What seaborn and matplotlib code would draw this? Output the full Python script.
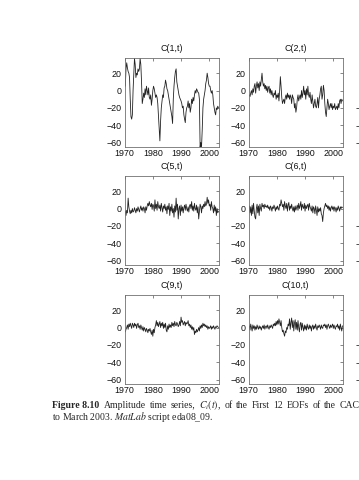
import numpy as np
import pandas as pd
import matplotlib
matplotlib.use("Agg")
import matplotlib.pyplot as plt
import seaborn as sns

# ---- data (quarterly readings, Jan 1970 .. Mar 2003) ----
start_year = 1970.25
step = 0.25

c1 = [5, 25, 32, 26, 22, 20, 15, -10, -30, -33, -28, 0, 20, 37, 30, 15,
      20, 18, 25, 22, 25, 37, 30, 10, -15, -10, -3, -8, 2, -5, 5, 0,
      -5, 3, -8, -10, -5, -17, -10, 0, 5, 2, -3, -8, -5, -8, -15, -30,
      -45, -58, -35, -20, -12, -5, -8, 3, 5, 12, 8, 2, 0, -5, -10, -15,
      -20, -25, -30, -38, -10, 5, 15, 22, 25, 10, 5, 0, -5, -8, -10, -12,
      -15, -20, -18, -28, -33, -37, -25, -20, -18, -12, -20, -15, -25, -20, -10, -15,
      -8, -12, -5, 0, -3, 2, 0, -2, -3, -10, -65, -60, -65, -45, -20, -10,
      -5, 0, 8, 12, 20, 15, 8, 5, 5, 0, -3, 0, -5, -15, -20, -25,
      -28, -20, -22, -18, -20]
c2 = [-5, -7, -3, 0, -5, 2, -2, 5, 8, -3, 5, 10, 3, 8, 0, 10,
      5, 12, 20, 10, 5, 8, 2, 6, 0, 5, -2, 3, 5, -3, 2, -5,
      0, -5, -8, -3, -5, 0, -10, -5, -8, -3, -12, 0, 16, 5, -8, -15,
      -12, -10, -15, -8, -5, -10, -3, -8, -5, -10, -5, -8, -15, -5, -8, -10,
      -20, -15, -25, -20, -10, -5, -12, -8, -5, -10, 0, -8, -3, 5, -5, 0,
      -10, 2, -5, 5, -5, -8, -2, -10, -15, -5, -12, -20, -15, -10, -18, -20,
      -15, -8, -20, -10, -5, 2, 5, -10, -5, 6, 0, -15, -25, -30, -20, -10,
      -15, -22, -18, -15, -20, -15, -22, -18, -20, -15, -22, -20, -18, -22, -15, -20,
      -12, -10, -15, -10, -12]
c5 = [-3, -8, -2, -5, 12, 2, -3, -6, -2, -5, 0, -4, -3, 1, -2, -5,
      0, -3, 2, -1, -4, 0, 3, -2, 1, -3, 2, 0, -5, 2, -2, 3,
      6, 3, 8, 4, 2, 6, -1, 5, 3, -3, 10, 0, 5, -2, 8, 2,
      0, 4, -3, 6, 1, -4, 3, 0, 5, -2, 2, -6, 3, -1, 6, -8,
      2, -3, 5, -5, 0, -10, 3, -4, 12, -2, 5, -12, 0, 3, -8, 4,
      -3, 2, -5, 1, 4, -2, 5, 0, -3, 2, -4, 3, 5, 0, 8, -2,
      3, -3, 6, 0, -2, 4, -5, 2, -12, -3, 5, 2, -5, 3, 0, 5,
      2, 8, 3, 5, 13, 6, 10, 3, 5, -2, 8, 2, 0, -5, 4, -3,
      2, -8, 0, -5, -3]
c6 = [3, -5, 2, -8, 4, -6, 6, -3, -10, -12, 0, 5, -5, 3, -8, 5,
      0, -3, 6, 2, 4, 0, 5, 2, 3, 1, 4, 0, 2, -2, 3, 1,
      -3, 2, 0, 4, 1, -3, 2, -1, 3, 0, -2, 5, 3, 10, 6, 2,
      5, -2, 8, 3, 0, 6, -3, 4, 7, -2, 3, 0, 5, 0, -3, 2,
      -4, 3, -2, 1, 4, -2, 6, 0, 3, 8, -2, 5, 2, 0, 6, -3,
      4, 0, 3, 5, -2, 6, 2, 0, -3, 3, -5, 2, 0, -6, 3, -2,
      -8, 2, -4, 0, -3, 1, -6, -8, -15, -5, 0, 3, 6, 2, 4, 0,
      3, -2, 2, -3, 1, 3, -1, 2, -3, 2, 0, -4, 1, -2, 3, 0,
      -3, 2, 0, 2, 1]
c9 = [-5, -2, 0, 3, -2, 4, 1, 5, 2, -1, 5, 3, 0, 5, 2, 4,
      -1, 3, 5, 0, 2, -2, 3, 0, -3, 1, -4, 0, -2, -5, -1, -3,
      -6, -2, -4, -1, -5, -8, -3, -10, -2, -6, 0, 3, 8, 2, 6, 1,
      4, 7, 0, 5, 2, 6, -1, 4, 0, 5, -3, -5, 2, -2, 4, 0,
      3, 0, 6, 2, 5, 1, 7, 3, 2, 6, 4, 1, 3, 7, 2, 12,
      6, 8, 3, 5, 7, 2, 6, 4, 5, 8, 2, 4, 0, 3, -2, 1,
      -3, 0, -8, -4, -6, -2, -5, -3, 0, -4, 2, -1, 3, 0, 5, 2,
      4, 1, 3, 0, 2, -2, 1, -1, 0, 2, -2, 1, -1, 2, 0, -2,
      1, 0, 2, 1, 0]
c10 = [2, -3, 4, 0, -4, 3, -1, 2, -3, 1, -2, 3, 0, -2, 2, -1,
       1, -3, 0, 2, -1, 3, -2, 1, 2, -1, 3, 0, -2, 2, 0, 3,
       1, -1, 4, 2, 5, 2, 7, 3, 8, 4, 10, 6, 2, 8, 0, -5,
       -3, -7, -10, -4, -6, 0, -2, 4, 2, 10, -2, 6, 11, 0, 8, -4,
       5, 9, -2, 6, -3, 8, 0, -5, 4, 6, -3, 5, 0, -4, 3, -2,
       2, -3, 4, 0, -2, 3, -1, 2, -4, 1, 3, -2, 2, -1, 4, 0,
       -3, 2, 0, 3, 1, -2, 3, 0, -1, 3, 2, 4, 0, 3, -2, 2,
       4, 1, -1, 3, 0, 2, 4, -1, 3, 0, -2, 2, 1, 4, -1, 2,
       -3, 4, 0, -4, 2]

titles = ["C(1,t)", "C(2,t)", "C(5,t)", "C(6,t)", "C(9,t)", "C(10,t)"]
series = [c1, c2, c5, c6, c9, c10]
xticks = [1970, 1980, 1990, 2000]
yticks = [-60, -40, -20, 0, 20]
caption_head = "Figure 8.10"
caption_line1 = "Amplitude time series, $C_i(t)$, of the First 12 EOFs of the CAC"
caption_line2 = "to March 2003. $\\mathit{MatLab}$ script eda08_09."

sns.set_style("white")
plt.rcParams["font.family"] = ["Liberation Sans", "DejaVu Sans"]
plt.rcParams["mathtext.fontset"] = "stix"

W, H = 359, 480
fig = plt.figure(figsize=(W / 100, H / 100), dpi=100)

col_left = [124.6, 248.6, 373.5]
ax_w = 94.0
row_top = [58.0, 176.0, 295.0]
ax_h = 88.5
FS = 6.4

def style(ax):
    ax.set_xlim(1970, 2003.3)
    ax.set_ylim(-64.5, 37.5)
    ax.set_xticks(xticks)
    ax.set_yticks(yticks)
    ax.set_xticklabels([str(v) for v in xticks])
    ax.set_yticklabels([f"\u2212{abs(v)}" if v < 0 else str(v) for v in yticks])
    ax.tick_params(direction="in", length=2, width=0.5, color="#555555",
                   labelsize=FS, labelcolor="#111111", top=True, right=True,
                   pad=2.0)
    for s in ax.spines.values():
        s.set_color("#707070")
        s.set_linewidth(0.6)
    ax.set_xlabel("")
    ax.set_ylabel("")

k = 0
for r in range(3):
    for c in range(3):
        l = col_left[c] / W
        b = 1 - (row_top[r] + ax_h) / H
        ax = fig.add_axes([l, b, ax_w / W, ax_h / H])
        if c < 2:
            vals = series[k]
            t = start_year + step * np.arange(len(vals))
            df = pd.DataFrame({"year": t, "amp": vals})
            sns.lineplot(data=df, x="year", y="amp", ax=ax, color="#222222",
                         linewidth=0.6)
            ax.set_title(titles[k], fontsize=FS, pad=5, color="#111111")
            k += 1
        style(ax)
        if c == 2:
            ax.set_xticklabels([])

# caption (first line justified to the right edge, like the book)
CFS = 7.0
x0 = 52
cap_y1 = 1 - 405 / H
cap_y2 = 1 - 417.5 / H
fig.canvas.draw()
renderer = fig.canvas.get_renderer()
t1 = fig.text(x0 / W, cap_y1, caption_head, family="Liberation Serif",
              fontweight="bold", fontsize=CFS, va="center", ha="left")
words = caption_line1.split(" ")
objs = []
for w_ in words:
    objs.append(fig.text(0, cap_y1, w_, family="Liberation Serif",
                         fontsize=CFS, va="center", ha="left"))
head_w = t1.get_window_extent(renderer).width
widths = [o.get_window_extent(renderer).width for o in objs]
right = 358.0
gap = (right - x0 - head_w - sum(widths)) / len(objs)
x = x0 + head_w + gap + 1.5
for o, wd in zip(objs, widths):
    o.set_x(x / W)
    x += wd + gap
fig.text(x0 / W, cap_y2, caption_line2, family="Liberation Serif",
         fontsize=CFS, va="center", ha="left")

fig.savefig("out.png", dpi=100)
